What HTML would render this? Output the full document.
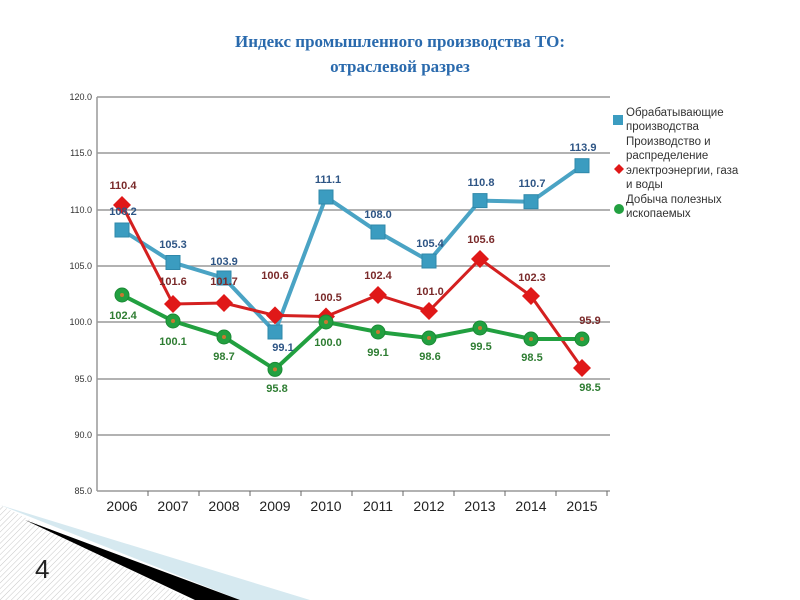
<!DOCTYPE html>
<html><head><meta charset="utf-8"><style>
html,body{margin:0;padding:0;background:#fff;}
svg{display:block;}
</style></head><body>
<svg width="800" height="600" xmlns="http://www.w3.org/2000/svg" font-family="Liberation Sans, sans-serif">
<defs>
<pattern id="h" width="4" height="4" patternUnits="userSpaceOnUse" patternTransform="rotate(45)">
<line x1="0" y1="0" x2="0" y2="4" stroke="#c8c8c8" stroke-width="1"/>
</pattern>
</defs>
<rect width="800" height="600" fill="#fff"/>
<!-- decor -->
<polygon points="0,505 0,600 190,600" fill="url(#h)"/>
<polygon points="0,505 310,600 240,600" fill="#d6e9f0"/>
<polygon points="25,520 240,600 195,600" fill="#000"/>
<text x="35" y="578" font-size="26" fill="#222">4</text>
<!-- title -->
<g font-family="Liberation Serif, serif" font-weight="bold" font-size="17" fill="#2a6aad" text-anchor="middle">
<text x="400" y="47">Индекс промышленного производства ТО:</text>
<text x="400" y="72">отраслевой разрез</text>
</g>
<!-- grid -->
<g stroke="#999" stroke-width="1.5">
<line x1="97" y1="97" x2="610" y2="97"/>
<line x1="97" y1="153" x2="610" y2="153"/>
<line x1="97" y1="210" x2="610" y2="210"/>
<line x1="97" y1="266" x2="610" y2="266"/>
<line x1="97" y1="322" x2="610" y2="322"/>
<line x1="97" y1="379" x2="610" y2="379"/>
<line x1="97" y1="435" x2="610" y2="435"/>
<line x1="97" y1="491" x2="610" y2="491"/>
<line x1="97" y1="97" x2="97" y2="491"/>
</g>
<g stroke="#666" stroke-width="1">
<line x1="148" y1="491" x2="148" y2="496"/><line x1="199" y1="491" x2="199" y2="496"/><line x1="250" y1="491" x2="250" y2="496"/><line x1="301" y1="491" x2="301" y2="496"/><line x1="352" y1="491" x2="352" y2="496"/><line x1="403" y1="491" x2="403" y2="496"/><line x1="454" y1="491" x2="454" y2="496"/><line x1="505" y1="491" x2="505" y2="496"/><line x1="556" y1="491" x2="556" y2="496"/><line x1="607" y1="491" x2="607" y2="496"/>
</g>
<g font-size="9" fill="#333" text-anchor="end">
<text x="92" y="100">120.0</text><text x="92" y="156">115.0</text><text x="92" y="213">110.0</text><text x="92" y="269">105.0</text><text x="92" y="325">100.0</text><text x="92" y="382">95.0</text><text x="92" y="438">90.0</text><text x="92" y="494">85.0</text>
</g>
<g font-size="14" fill="#222" text-anchor="middle">
<text x="122" y="511">2006</text><text x="173" y="511">2007</text><text x="224" y="511">2008</text><text x="275" y="511">2009</text><text x="326" y="511">2010</text><text x="378" y="511">2011</text><text x="429" y="511">2012</text><text x="480" y="511">2013</text><text x="531" y="511">2014</text><text x="582" y="511">2015</text>
</g>
<!-- blue -->
<polyline fill="none" stroke="#4aa3c4" stroke-width="4" points="122,230 173,262.5 224,278 275,332 326,197 378,232 429,261 480,200.6 531,201.7 582,165.7"/>
<g fill="#3b9cc0" stroke="#2f88aa" stroke-width="1">
<rect x="115" y="223" width="14" height="14"/><rect x="166" y="255.5" width="14" height="14"/><rect x="217" y="271" width="14" height="14"/><rect x="268" y="325" width="14" height="14"/><rect x="319" y="190" width="14" height="14"/><rect x="371" y="225" width="14" height="14"/><rect x="422" y="254" width="14" height="14"/><rect x="473" y="193.6" width="14" height="14"/><rect x="524" y="194.7" width="14" height="14"/><rect x="575" y="158.7" width="14" height="14"/>
</g>
<!-- red -->
<polyline fill="none" stroke="#d42020" stroke-width="3" points="122,205 173,304 224,303 275,315.4 326,316.5 378,295 429,311 480,259 531,296 582,368"/>
<g fill="#e01818">
<path d="M122,196 l9,9 -9,9 -9,-9z"/><path d="M173,295 l9,9 -9,9 -9,-9z"/><path d="M224,294 l9,9 -9,9 -9,-9z"/><path d="M275,306.4 l9,9 -9,9 -9,-9z"/><path d="M326,307.5 l9,9 -9,9 -9,-9z"/><path d="M378,286 l9,9 -9,9 -9,-9z"/><path d="M429,302 l9,9 -9,9 -9,-9z"/><path d="M480,250 l9,9 -9,9 -9,-9z"/><path d="M531,287 l9,9 -9,9 -9,-9z"/><path d="M582,359 l9,9 -9,9 -9,-9z"/>
</g>
<!-- green -->
<polyline fill="none" stroke="#22a040" stroke-width="4" points="122,295 173,321 224,337 275,369.4 326,322 378,332 429,338 480,328 531,339 582,339"/>
<g fill="#22a040" stroke="#1b8a35" stroke-width="1">
<circle cx="122" cy="295" r="7"/><circle cx="173" cy="321" r="7"/><circle cx="224" cy="337" r="7"/><circle cx="275" cy="369.4" r="7"/><circle cx="326" cy="322" r="7"/><circle cx="378" cy="332" r="7"/><circle cx="429" cy="338" r="7"/><circle cx="480" cy="328" r="7"/><circle cx="531" cy="339" r="7"/><circle cx="582" cy="339" r="7"/>
</g>
<g fill="#c87830">
<circle cx="122" cy="295" r="2"/><circle cx="173" cy="321" r="2"/><circle cx="224" cy="337" r="2"/><circle cx="275" cy="369.4" r="2"/><circle cx="326" cy="322" r="2"/><circle cx="378" cy="332" r="2"/><circle cx="429" cy="338" r="2"/><circle cx="480" cy="328" r="2"/><circle cx="531" cy="339" r="2"/><circle cx="582" cy="339" r="2"/>
</g>
<!-- labels -->
<g font-size="11" font-weight="bold" text-anchor="middle">
<g fill="#2e5585">
<text x="123" y="215">108.2</text><text x="173" y="248">105.3</text><text x="224" y="265">103.9</text><text x="283" y="351">99.1</text><text x="328" y="183">111.1</text><text x="378" y="218">108.0</text><text x="430" y="247">105.4</text><text x="481" y="186">110.8</text><text x="532" y="187">110.7</text><text x="583" y="151">113.9</text>
</g>
<g fill="#7a2a2a">
<text x="123" y="189">110.4</text><text x="173" y="285">101.6</text><text x="224" y="285">101.7</text><text x="275" y="279">100.6</text><text x="328" y="301">100.5</text><text x="378" y="279">102.4</text><text x="430" y="295">101.0</text><text x="481" y="243">105.6</text><text x="532" y="281">102.3</text><text x="590" y="324">95.9</text>
</g>
<g fill="#2e7d32">
<text x="123" y="319">102.4</text><text x="173" y="345">100.1</text><text x="224" y="360">98.7</text><text x="277" y="392">95.8</text><text x="328" y="346">100.0</text><text x="378" y="356">99.1</text><text x="430" y="360">98.6</text><text x="481" y="350">99.5</text><text x="532" y="361">98.5</text><text x="590" y="391">98.5</text>
</g>
</g>
<!-- legend -->
<rect x="613" y="115" width="10" height="10" fill="#3b9cc0"/>
<path d="M619,164 l5,5 -5,5 -5,-5z" fill="#e01818"/>
<circle cx="619" cy="209" r="5" fill="#22a040"/>
<g font-size="11.5" fill="#333">
<text x="626" y="116">Обрабатывающие</text><text x="626" y="130">производства</text>
<text x="626" y="145">Производство и</text><text x="626" y="159">распределение</text><text x="626" y="174">электроэнергии, газа</text><text x="626" y="188">и воды</text>
<text x="626" y="203">Добыча полезных</text><text x="626" y="217">ископаемых</text>
</g>
</svg>
</body></html>
